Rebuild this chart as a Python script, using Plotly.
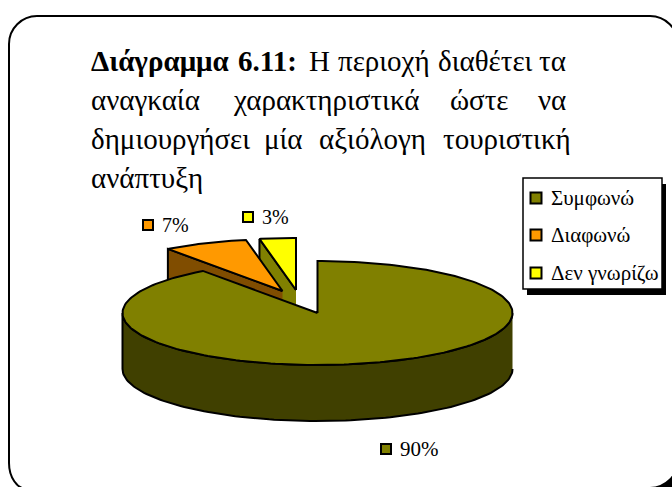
import numpy as np
import plotly.graph_objects as go

# Data
categories = ["Συμφωνώ", "Διαφωνώ", "Δεν γνωρίζω"]
values = [90, 7, 3]
value_labels = ["90%", "7%", "3%"]
top_colors = ["#808000", "#FF9900", "#FFFF00"]
side_colors = ["#404000", "#804D00", "#808000"]

# Pie geometry (page pixels)
CX, CY, RX, RY, DEPTH = 317.5, 313, 195, 52, 56
explode = [(0, 0), (-35, -22), (-21.5, -23)]
label_pos = [(386, 449), (148, 225), (248, 217)]
label_sizes = [21, 20, 20]

# Title words: (text, x, bold), per line with baseline y
title_lines = [
    (69, [("Διάγραμμα", 90, True), ("6.11:", 237, True), ("Η", 308, False), ("περιοχή", 337, False),
          ("διαθέτει", 437, False), ("τα", 538, False)]),
    (108, [("αναγκαία", 90, False), ("χαρακτηριστικά", 232, False), ("ώστε", 449, False), ("να", 537, False)]),
    (147, [("δημιουργήσει", 90, False), ("μία", 263, False), ("αξιόλογη", 318, False), ("τουριστική", 442, False)]),
    (186, [("ανάπτυξη", 90, False)]),
]
legend_box = (523, 178, 662, 289)
legend_rows = [198, 235, 273]
FONT = "Liberation Serif"
BLACK = "#000000"


def arc(a0, a1, dx=0.0, dy=0.0, n=120):
    t = np.radians(np.linspace(a0, a1, n))
    return CX + dx + RX * np.sin(t), CY + dy - RY * np.cos(t)


fig = go.Figure()


def poly(xs, ys, color):
    fig.add_trace(go.Scatter(x=list(xs), y=list(ys), mode="lines", fill="toself", fillcolor=color,
                             line=dict(color=BLACK, width=2), hoverinfo="skip", showlegend=False))


angles = 360 * np.cumsum([0] + values) / sum(values)

# exploded slices drawn first (behind the main slice), yellow behind orange
for i in [2, 1]:
    a0, a1 = angles[i], angles[i + 1]
    dx, dy = explode[i]
    x, y = arc(a0, a1, dx, dy, 30)
    apex = (CX + dx, CY + dy)
    wx = [apex[0], x[0], x[0], apex[0]]
    wy = [apex[1], y[0], y[0] + DEPTH, apex[1] + DEPTH]
    poly(wx, wy, side_colors[i])
    poly([apex[0], *x, apex[0]], [apex[1], *y, apex[1]], top_colors[i])

# main slice
x, y = arc(90, 270)
poly([*x, *x[::-1]], [*y, *(y[::-1] + DEPTH)], side_colors[0])
x, y = arc(angles[0], angles[1], n=240)
poly([CX, *x, CX], [CY, *y, CY], top_colors[0])

# data labels with square keys
for lab, col, (lx, ly), sz in zip(value_labels, top_colors, label_pos, label_sizes):
    fig.add_trace(go.Scatter(x=[lx], y=[ly], mode="markers", hoverinfo="skip", showlegend=False,
                             marker=dict(symbol="square", size=10, color=col, line=dict(color=BLACK, width=2))))
    fig.add_annotation(x=lx + 13, y=ly, text=lab, showarrow=False, xanchor="left", yanchor="middle",
                       font=dict(family=FONT, size=sz, color=BLACK), borderpad=0)

# legend keys and texts
for cat, col, ry in zip(categories, top_colors, legend_rows):
    fig.add_trace(go.Scatter(x=[536], y=[ry], mode="markers", hoverinfo="skip", showlegend=False,
                             marker=dict(symbol="square", size=11, color=col, line=dict(color=BLACK, width=2))))
    fig.add_annotation(x=550, y=ry, text=cat, showarrow=False, xanchor="left", yanchor="middle",
                       font=dict(family=FONT, size=21, color=BLACK), borderpad=0)

# title words
for base, words in title_lines:
    for word, wx, bold in words:
        fig.add_annotation(x=wx, y=base - 8, text=f"<b>{word}</b>" if bold else word, showarrow=False,
                           xanchor="left", yanchor="middle", borderpad=0,
                           font=dict(family=FONT, size=29, color=BLACK))

frame = ("M 9 44 C 9 28.6 21.6 16 37 16 L 650 16 C 665.4 16 678 28.6 678 44 L 678 460 "
         "C 678 475.4 665.4 488 650 488 L 27 489 C 17 489 9 477 9 463 Z")
corner = "M 655 488 C 663 486 670 482 673 474 L 673 488 Z"
lx0, ly0, lx1, ly1 = legend_box
shapes = [
    dict(type="path", path=frame, fillcolor="#FFFFFF", line=dict(color=BLACK, width=2), layer="below"),
    dict(type="rect", x0=lx0 + 4, y0=ly0 + 6, x1=lx1 + 4, y1=ly1 + 6, fillcolor=BLACK, line=dict(width=0), layer="below"),
    dict(type="rect", x0=lx0, y0=ly0, x1=lx1, y1=ly1, fillcolor="#FFFFFF", line=dict(color=BLACK, width=1.5), layer="below"),
    dict(type="path", path=corner, fillcolor=BLACK, line=dict(width=0), layer="above"),
]

fig.update_layout(
    width=672, height=487, margin=dict(l=0, r=0, t=0, b=0), paper_bgcolor="#FFFFFF", plot_bgcolor="#FFFFFF",
    xaxis=dict(range=[0, 672], visible=False, fixedrange=True),
    yaxis=dict(range=[487, 0], visible=False, fixedrange=True),
    shapes=shapes, showlegend=False,
)
fig.write_html("out.html", config={"displayModeBar": False},
               post_script="document.body.style.margin='0';document.body.style.overflow='hidden';")
